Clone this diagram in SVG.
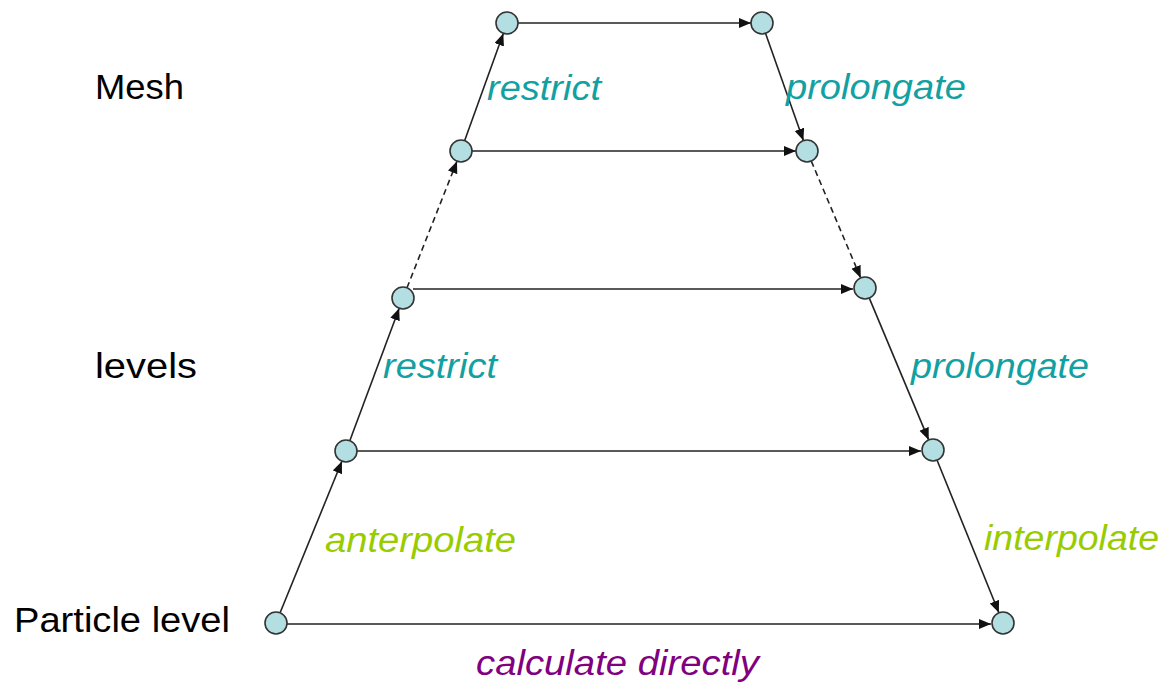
<svg xmlns="http://www.w3.org/2000/svg" width="1167" height="686" viewBox="0 0 1167 686">
<defs>
<marker id="arr" markerUnits="userSpaceOnUse" markerWidth="13" markerHeight="11" refX="12" refY="5" orient="auto">
<path d="M0,0 L12,5 L0,10 z" fill="#111"/>
</marker>
<style>
.e{stroke:#222;stroke-width:1.6;fill:none;marker-end:url(#arr)}
.d{stroke-dasharray:6 4}
.n{fill:#b3dfe2;stroke:#333;stroke-width:1.6}
.lbl{font-family:"Liberation Sans",Arial,sans-serif;font-size:35px;fill:#000}
.it{font-family:"Liberation Sans",Arial,sans-serif;font-size:35px;font-style:italic}
.teal{fill:#13a0a2}
.green{fill:#99cc00}
.purple{fill:#800080}
</style>
</defs>
<rect width="1167" height="686" fill="#fff"/>
<g id="connectors">
<line class="e" x1="518" y1="23" x2="751" y2="23"/>
<line class="e" x1="472" y1="151" x2="796" y2="151"/>
<line class="e" x1="413" y1="289" x2="853" y2="289"/>
<line class="e" x1="357" y1="451" x2="921" y2="451"/>
<line class="e" x1="287" y1="624" x2="991" y2="624"/>
<line class="e" x1="280.1" y1="612.8" x2="341.9" y2="461.2"/>
<line class="e" x1="349.8" y1="440.7" x2="399.2" y2="308.3"/>
<line class="e d" x1="407" y1="287.8" x2="457" y2="161.2"/>
<line class="e" x1="464.7" y1="140.6" x2="503.3" y2="33.4"/>
<line class="e" x1="765.6" y1="33.4" x2="803.4" y2="140.6"/>
<line class="e d" x1="811.3" y1="161.1" x2="860.7" y2="277.9"/>
<line class="e" x1="869.3" y1="298.1" x2="928.7" y2="439.9"/>
<line class="e" x1="937.1" y1="460.2" x2="998.9" y2="612.8"/>
</g>
<g id="n1"><circle class="n" cx="507" cy="23" r="11"/></g>
<g id="n2"><circle class="n" cx="762" cy="23" r="11"/></g>
<g id="n3"><circle class="n" cx="461" cy="151" r="11"/></g>
<g id="n4"><circle class="n" cx="807" cy="151" r="11"/></g>
<g id="n5"><circle class="n" cx="403" cy="298" r="11"/></g>
<g id="n6"><circle class="n" cx="865" cy="288" r="11"/></g>
<g id="n7"><circle class="n" cx="346" cy="451" r="11"/></g>
<g id="n8"><circle class="n" cx="933" cy="450" r="11"/></g>
<g id="n9"><circle class="n" cx="276" cy="623" r="11"/></g>
<g id="n10"><circle class="n" cx="1003" cy="623" r="11"/></g>
<g id="labels">
<text class="lbl" x="95" y="99" textLength="89" lengthAdjust="spacingAndGlyphs">Mesh</text>
<text class="lbl" x="95" y="378" textLength="102" lengthAdjust="spacingAndGlyphs">levels</text>
<text class="lbl" x="14" y="632" textLength="216" lengthAdjust="spacingAndGlyphs">Particle level</text>
<text class="it teal" x="487" y="100" textLength="114" lengthAdjust="spacingAndGlyphs">restrict</text>
<text class="it teal" x="786" y="99" textLength="180" lengthAdjust="spacingAndGlyphs">prolongate</text>
<text class="it teal" x="383" y="378" textLength="114" lengthAdjust="spacingAndGlyphs">restrict</text>
<text class="it teal" x="911" y="378" textLength="178" lengthAdjust="spacingAndGlyphs">prolongate</text>
<text class="it green" x="325" y="552" textLength="191" lengthAdjust="spacingAndGlyphs">anterpolate</text>
<text class="it green" x="984" y="550" textLength="175" lengthAdjust="spacingAndGlyphs">interpolate</text>
<text class="it purple" x="476" y="675" textLength="283" lengthAdjust="spacingAndGlyphs">calculate directly</text>
</g>
</svg>
